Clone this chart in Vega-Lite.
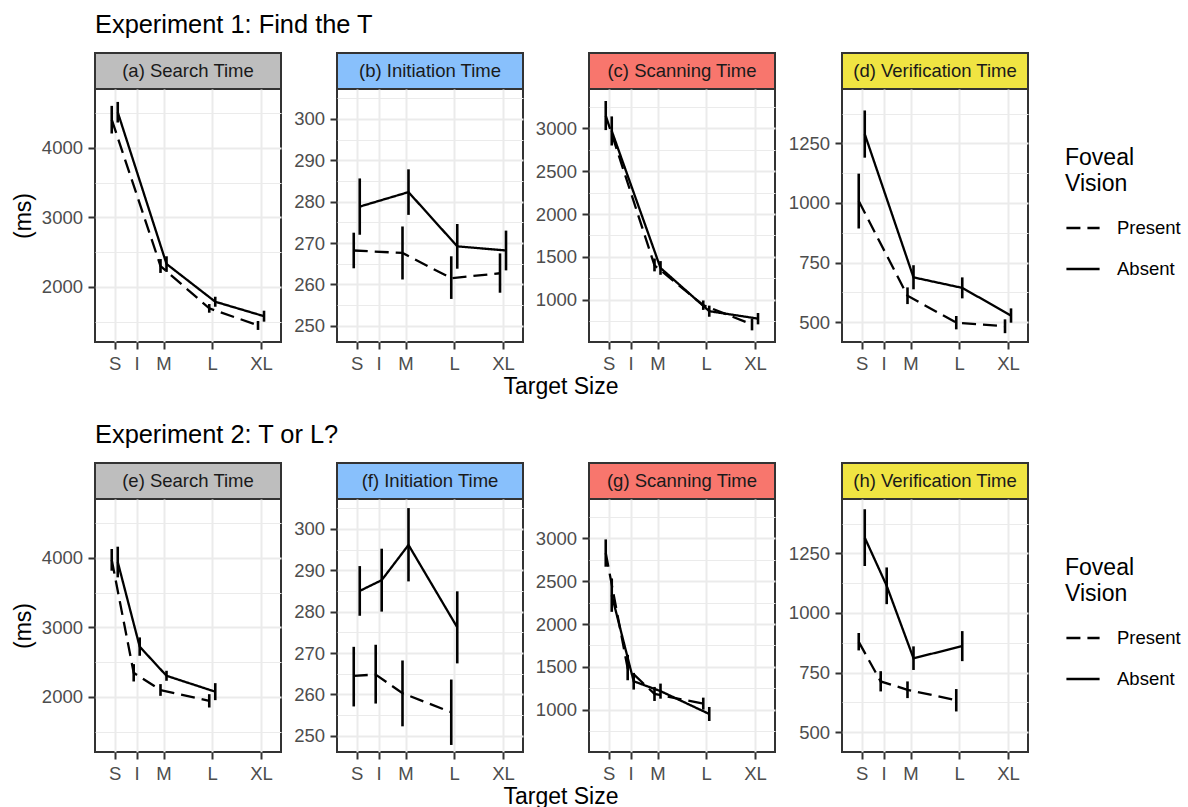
{
  "$schema": "https://vega.github.io/schema/vega-lite/v6.json",
  "padding": {"left": 11, "top": 12, "right": 5, "bottom": 0},
  "background": "white",
  "datasets": {
    "d": [
      {"p": "a", "size": "S", "x": 1, "c": "Present", "y": 4408, "lo": 4209, "hi": 4607},
      {"p": "a", "size": "S", "x": 1, "c": "Absent", "y": 4515, "lo": 4367, "hi": 4664},
      {"p": "a", "size": "M", "x": 2, "c": "Present", "y": 2300, "lo": 2200, "hi": 2400},
      {"p": "a", "size": "M", "x": 2, "c": "Absent", "y": 2330, "lo": 2215, "hi": 2440},
      {"p": "a", "size": "L", "x": 3, "c": "Present", "y": 1690, "lo": 1627, "hi": 1752},
      {"p": "a", "size": "L", "x": 3, "c": "Absent", "y": 1785, "lo": 1713, "hi": 1857},
      {"p": "a", "size": "XL", "x": 4, "c": "Present", "y": 1445, "lo": 1379, "hi": 1508},
      {"p": "a", "size": "XL", "x": 4, "c": "Absent", "y": 1577, "lo": 1498, "hi": 1656},

      {"p": "b", "size": "S", "x": 1, "c": "Present", "y": 268.2, "lo": 263.9, "hi": 272.5},
      {"p": "b", "size": "S", "x": 1, "c": "Absent", "y": 278.8, "lo": 272.0, "hi": 285.6},
      {"p": "b", "size": "M", "x": 2, "c": "Present", "y": 267.6, "lo": 261.2, "hi": 274.0},
      {"p": "b", "size": "M", "x": 2, "c": "Absent", "y": 282.3, "lo": 276.8, "hi": 287.8},
      {"p": "b", "size": "L", "x": 3, "c": "Present", "y": 261.5, "lo": 256.5, "hi": 266.8},
      {"p": "b", "size": "L", "x": 3, "c": "Absent", "y": 269.2, "lo": 263.8, "hi": 274.6},
      {"p": "b", "size": "XL", "x": 4, "c": "Present", "y": 262.7, "lo": 258.0, "hi": 267.5},
      {"p": "b", "size": "XL", "x": 4, "c": "Absent", "y": 268.2, "lo": 263.4, "hi": 273.0},

      {"p": "c", "size": "S", "x": 1, "c": "Present", "y": 3150, "lo": 2980, "hi": 3320},
      {"p": "c", "size": "S", "x": 1, "c": "Absent", "y": 2970, "lo": 2800, "hi": 3140},
      {"p": "c", "size": "M", "x": 2, "c": "Present", "y": 1400, "lo": 1330, "hi": 1480},
      {"p": "c", "size": "M", "x": 2, "c": "Absent", "y": 1370, "lo": 1290, "hi": 1450},
      {"p": "c", "size": "L", "x": 3, "c": "Present", "y": 935, "lo": 880, "hi": 990},
      {"p": "c", "size": "L", "x": 3, "c": "Absent", "y": 865, "lo": 800, "hi": 930},
      {"p": "c", "size": "XL", "x": 4, "c": "Present", "y": 710, "lo": 641, "hi": 778},
      {"p": "c", "size": "XL", "x": 4, "c": "Absent", "y": 778, "lo": 711, "hi": 844},

      {"p": "d", "size": "S", "x": 1, "c": "Present", "y": 1008, "lo": 893, "hi": 1123},
      {"p": "d", "size": "S", "x": 1, "c": "Absent", "y": 1289, "lo": 1190, "hi": 1388},
      {"p": "d", "size": "M", "x": 2, "c": "Present", "y": 611, "lo": 576, "hi": 646},
      {"p": "d", "size": "M", "x": 2, "c": "Absent", "y": 688, "lo": 638, "hi": 739},
      {"p": "d", "size": "L", "x": 3, "c": "Present", "y": 498, "lo": 470, "hi": 526},
      {"p": "d", "size": "L", "x": 3, "c": "Absent", "y": 644, "lo": 600, "hi": 688},
      {"p": "d", "size": "XL", "x": 4, "c": "Present", "y": 483, "lo": 454, "hi": 512},
      {"p": "d", "size": "XL", "x": 4, "c": "Absent", "y": 528, "lo": 498, "hi": 558},

      {"p": "e", "size": "S", "x": 1, "c": "Present", "y": 3973, "lo": 3817, "hi": 4130},
      {"p": "e", "size": "S", "x": 1, "c": "Absent", "y": 3942, "lo": 3721, "hi": 4163},
      {"p": "e", "size": "I", "x": 1.45, "c": "Present", "y": 2346, "lo": 2221, "hi": 2471},
      {"p": "e", "size": "I", "x": 1.45, "c": "Absent", "y": 2723, "lo": 2591, "hi": 2856},
      {"p": "e", "size": "M", "x": 2, "c": "Present", "y": 2098, "lo": 2014, "hi": 2183},
      {"p": "e", "size": "M", "x": 2, "c": "Absent", "y": 2303, "lo": 2231, "hi": 2375},
      {"p": "e", "size": "L", "x": 3, "c": "Present", "y": 1942, "lo": 1846, "hi": 2038},
      {"p": "e", "size": "L", "x": 3, "c": "Absent", "y": 2074, "lo": 1952, "hi": 2197},

      {"p": "f", "size": "S", "x": 1, "c": "Present", "y": 264.5, "lo": 257.1, "hi": 271.5},
      {"p": "f", "size": "S", "x": 1, "c": "Absent", "y": 285.0, "lo": 279.0, "hi": 291.0},
      {"p": "f", "size": "I", "x": 1.45, "c": "Present", "y": 264.8, "lo": 257.8, "hi": 272.0},
      {"p": "f", "size": "I", "x": 1.45, "c": "Absent", "y": 287.6, "lo": 280.0, "hi": 295.2},
      {"p": "f", "size": "M", "x": 2, "c": "Present", "y": 260.3, "lo": 252.3, "hi": 268.2},
      {"p": "f", "size": "M", "x": 2, "c": "Absent", "y": 296.1, "lo": 287.3, "hi": 305.0},
      {"p": "f", "size": "L", "x": 3, "c": "Present", "y": 255.7, "lo": 247.8, "hi": 263.6},
      {"p": "f", "size": "L", "x": 3, "c": "Absent", "y": 276.2, "lo": 267.5, "hi": 284.9},

      {"p": "g", "size": "S", "x": 1, "c": "Present", "y": 2829, "lo": 2669, "hi": 2988},
      {"p": "g", "size": "S", "x": 1, "c": "Absent", "y": 2337, "lo": 2142, "hi": 2532},
      {"p": "g", "size": "I", "x": 1.45, "c": "Present", "y": 1480, "lo": 1343, "hi": 1640},
      {"p": "g", "size": "I", "x": 1.45, "c": "Absent", "y": 1331, "lo": 1234, "hi": 1429},
      {"p": "g", "size": "M", "x": 2, "c": "Present", "y": 1183, "lo": 1101, "hi": 1265},
      {"p": "g", "size": "M", "x": 2, "c": "Absent", "y": 1216, "lo": 1128, "hi": 1304},
      {"p": "g", "size": "L", "x": 3, "c": "Present", "y": 1070, "lo": 1000, "hi": 1140},
      {"p": "g", "size": "L", "x": 3, "c": "Absent", "y": 949, "lo": 867, "hi": 1031},

      {"p": "h", "size": "S", "x": 1, "c": "Present", "y": 879, "lo": 843, "hi": 916},
      {"p": "h", "size": "S", "x": 1, "c": "Absent", "y": 1316, "lo": 1197, "hi": 1435},
      {"p": "h", "size": "I", "x": 1.45, "c": "Present", "y": 713, "lo": 671, "hi": 756},
      {"p": "h", "size": "I", "x": 1.45, "c": "Absent", "y": 1114, "lo": 1037, "hi": 1191},
      {"p": "h", "size": "M", "x": 2, "c": "Present", "y": 678, "lo": 643, "hi": 713},
      {"p": "h", "size": "M", "x": 2, "c": "Absent", "y": 810, "lo": 761, "hi": 860},
      {"p": "h", "size": "L", "x": 3, "c": "Present", "y": 634, "lo": 587, "hi": 681},
      {"p": "h", "size": "L", "x": 3, "c": "Absent", "y": 861, "lo": 798, "hi": 924}
    ]
  },
  "spacing": 23,
  "resolve": {"scale": {"strokeDash": "independent"}, "legend": {"strokeDash": "independent"}},
  "vconcat": [
    {
      "title": {"text": "Experiment 1: Find the T", "anchor": "start", "frame": "group", "offset": 14},
      "resolve": {"scale": {"strokeDash": "independent"}, "legend": {"strokeDash": "independent"}},
      "vconcat": [
        {
          "title": {"text": "Target Size", "orient": "bottom", "anchor": "start", "align": "center", "frame": "group", "dx": 466, "fontSize": 23, "offset": 1.5},
          "spacing": 10,
          "resolve": {"scale": {"strokeDash": "independent"}, "legend": {"strokeDash": "independent"}},
          "hconcat": [
            {
              "spacing": 10,
              "resolve": {"scale": {"strokeDash": "independent"}, "legend": {"strokeDash": "independent"}},
              "hconcat": [
                {
                  "bounds": "flush", "spacing": 0,
                  "resolve": {"scale": {"strokeDash": "independent"}, "legend": {"strokeDash": "independent"}},
                  "vconcat": [
                    {"width": 186, "height": 36, "data": {"values": [{"label": "(a) Search Time"}]},
                     "mark": {"type": "text", "fontSize": 18.5, "color": "#1a1a1a"},
                     "encoding": {"text": {"field": "label"}},
                     "view": {"fill": "#bebebe", "stroke": "#333333", "strokeWidth": 2}},
                    {"width": 186, "height": 253, "data": {"name": "d"},
                     "transform": [{"filter": "datum.p == 'a'"}],
                     "encoding": {"x": {"field": "x", "type": "quantitative", "scale": {"domain": [0.595, 4.41], "nice": false, "zero": false},
                       "axis": {"values": [1, 1.45, 2, 3, 4], "labelExpr": "datum.value == 1 ? 'S' : datum.value == 1.45 ? 'I' : datum.value == 2 ? 'M' : datum.value == 3 ? 'L' : 'XL'", "grid": true, "gridWidth": 2, "labelOverlap": false, "labelFlush": false, "title": null}}},
                     "layer": [
                       {"mark": {"type": "point", "opacity": 0}, "encoding": {"y": {"field": "y", "type": "quantitative", "scale": {"domain": [1205, 4850], "nice": false, "zero": false}, "axis": {"values": [1500, 2500, 3500, 4500], "grid": true, "gridWidth": 1.1, "labels": false, "ticks": false, "domain": false, "title": null, "orient": "left"}}}},
                       {"transform": [{"filter": "datum.c == 'Present'"}], "mark": {"type": "rule", "xOffset": -3, "strokeWidth": 2.6, "color": "black"}, "encoding": {"y": {"field": "lo", "type": "quantitative", "axis": {"values": [2000, 3000, 4000], "format": "d", "grid": true, "gridWidth": 2, "title": "(ms)", "orient": "left"}}, "y2": {"field": "hi"}}},
                       {"transform": [{"filter": "datum.c == 'Absent'"}], "mark": {"type": "rule", "xOffset": 3, "strokeWidth": 2.6, "color": "black"}, "encoding": {"y": {"field": "lo", "type": "quantitative", "axis": null}, "y2": {"field": "hi"}}},
                       {"transform": [{"filter": "datum.c == 'Present'"}], "mark": {"type": "line", "xOffset": -3, "strokeWidth": 2.3, "color": "black"}, "encoding": {"y": {"field": "y", "type": "quantitative", "axis": null}, "strokeDash": {"field": "c", "type": "nominal", "scale": {"domain": ["Present", "Absent"], "range": [[14, 7], [1, 0]]}, "legend": null}}},
                       {"transform": [{"filter": "datum.c == 'Absent'"}], "mark": {"type": "line", "xOffset": 3, "strokeWidth": 2.3, "color": "black"}, "encoding": {"y": {"field": "y", "type": "quantitative", "axis": null}, "strokeDash": {"field": "c", "type": "nominal", "scale": {"domain": ["Present", "Absent"], "range": [[14, 7], [1, 0]]}, "legend": null}}}
                     ],
                     "resolve": {"axis": {"y": "independent"}}}
                  ]
                },
                {
                  "bounds": "flush", "spacing": 0,
                  "resolve": {"scale": {"strokeDash": "independent"}, "legend": {"strokeDash": "independent"}},
                  "vconcat": [
                    {"width": 186, "height": 36, "data": {"values": [{"label": "(b) Initiation Time"}]},
                     "mark": {"type": "text", "fontSize": 18.5, "color": "#1a1a1a"},
                     "encoding": {"text": {"field": "label"}},
                     "view": {"fill": "#88c0fc", "stroke": "#333333", "strokeWidth": 2}},
                    {"width": 186, "height": 253, "data": {"name": "d"},
                     "transform": [{"filter": "datum.p == 'b'"}],
                     "encoding": {"x": {"field": "x", "type": "quantitative", "scale": {"domain": [0.595, 4.41], "nice": false, "zero": false},
                       "axis": {"values": [1, 1.45, 2, 3, 4], "labelExpr": "datum.value == 1 ? 'S' : datum.value == 1.45 ? 'I' : datum.value == 2 ? 'M' : datum.value == 3 ? 'L' : 'XL'", "grid": true, "gridWidth": 2, "labelOverlap": false, "labelFlush": false, "title": null}}},
                     "layer": [
                       {"mark": {"type": "point", "opacity": 0}, "encoding": {"y": {"field": "y", "type": "quantitative", "scale": {"domain": [246.1, 307.2], "nice": false, "zero": false}, "axis": {"values": [255, 265, 275, 285, 295, 305], "grid": true, "gridWidth": 1.1, "labels": false, "ticks": false, "domain": false, "title": null, "orient": "left"}}}},
                       {"transform": [{"filter": "datum.c == 'Present'"}], "mark": {"type": "rule", "xOffset": -3, "strokeWidth": 2.6, "color": "black"}, "encoding": {"y": {"field": "lo", "type": "quantitative", "axis": {"values": [250, 260, 270, 280, 290, 300], "format": "d", "grid": true, "gridWidth": 2, "title": null, "orient": "left"}}, "y2": {"field": "hi"}}},
                       {"transform": [{"filter": "datum.c == 'Absent'"}], "mark": {"type": "rule", "xOffset": 3, "strokeWidth": 2.6, "color": "black"}, "encoding": {"y": {"field": "lo", "type": "quantitative", "axis": null}, "y2": {"field": "hi"}}},
                       {"transform": [{"filter": "datum.c == 'Present'"}], "mark": {"type": "line", "xOffset": -3, "strokeWidth": 2.3, "color": "black"}, "encoding": {"y": {"field": "y", "type": "quantitative", "axis": null}, "strokeDash": {"field": "c", "type": "nominal", "scale": {"domain": ["Present", "Absent"], "range": [[14, 7], [1, 0]]}, "legend": null}}},
                       {"transform": [{"filter": "datum.c == 'Absent'"}], "mark": {"type": "line", "xOffset": 3, "strokeWidth": 2.3, "color": "black"}, "encoding": {"y": {"field": "y", "type": "quantitative", "axis": null}, "strokeDash": {"field": "c", "type": "nominal", "scale": {"domain": ["Present", "Absent"], "range": [[14, 7], [1, 0]]}, "legend": null}}}
                     ],
                     "resolve": {"axis": {"y": "independent"}}}
                  ]
                }
              ]
            },
            {
              "spacing": 11,
              "resolve": {"scale": {"strokeDash": "independent"}, "legend": {"strokeDash": "independent"}},
              "hconcat": [
                {
                  "bounds": "flush", "spacing": 0,
                  "resolve": {"scale": {"strokeDash": "independent"}, "legend": {"strokeDash": "independent"}},
                  "vconcat": [
                    {"width": 186, "height": 36, "data": {"values": [{"label": "(c) Scanning Time"}]},
                     "mark": {"type": "text", "fontSize": 18.5, "color": "#1a1a1a"},
                     "encoding": {"text": {"field": "label"}},
                     "view": {"fill": "#f8766d", "stroke": "#333333", "strokeWidth": 2}},
                    {"width": 186, "height": 253, "data": {"name": "d"},
                     "transform": [{"filter": "datum.p == 'c'"}],
                     "encoding": {"x": {"field": "x", "type": "quantitative", "scale": {"domain": [0.595, 4.41], "nice": false, "zero": false},
                       "axis": {"values": [1, 1.45, 2, 3, 4], "labelExpr": "datum.value == 1 ? 'S' : datum.value == 1.45 ? 'I' : datum.value == 2 ? 'M' : datum.value == 3 ? 'L' : 'XL'", "grid": true, "gridWidth": 2, "labelOverlap": false, "labelFlush": false, "title": null}}},
                     "layer": [
                       {"mark": {"type": "point", "opacity": 0}, "encoding": {"y": {"field": "y", "type": "quantitative", "scale": {"domain": [505, 3460], "nice": false, "zero": false}, "axis": {"values": [750, 1250, 1750, 2250, 2750, 3250], "grid": true, "gridWidth": 1.1, "labels": false, "ticks": false, "domain": false, "title": null, "orient": "left"}}}},
                       {"transform": [{"filter": "datum.c == 'Present'"}], "mark": {"type": "rule", "xOffset": -3, "strokeWidth": 2.6, "color": "black"}, "encoding": {"y": {"field": "lo", "type": "quantitative", "axis": {"values": [1000, 1500, 2000, 2500, 3000], "format": "d", "grid": true, "gridWidth": 2, "title": null, "orient": "left"}}, "y2": {"field": "hi"}}},
                       {"transform": [{"filter": "datum.c == 'Absent'"}], "mark": {"type": "rule", "xOffset": 3, "strokeWidth": 2.6, "color": "black"}, "encoding": {"y": {"field": "lo", "type": "quantitative", "axis": null}, "y2": {"field": "hi"}}},
                       {"transform": [{"filter": "datum.c == 'Present'"}], "mark": {"type": "line", "xOffset": -3, "strokeWidth": 2.3, "color": "black"}, "encoding": {"y": {"field": "y", "type": "quantitative", "axis": null}, "strokeDash": {"field": "c", "type": "nominal", "scale": {"domain": ["Present", "Absent"], "range": [[14, 7], [1, 0]]}, "legend": null}}},
                       {"transform": [{"filter": "datum.c == 'Absent'"}], "mark": {"type": "line", "xOffset": 3, "strokeWidth": 2.3, "color": "black"}, "encoding": {"y": {"field": "y", "type": "quantitative", "axis": null}, "strokeDash": {"field": "c", "type": "nominal", "scale": {"domain": ["Present", "Absent"], "range": [[14, 7], [1, 0]]}, "legend": null}}}
                     ],
                     "resolve": {"axis": {"y": "independent"}}}
                  ]
                },
                {
                  "bounds": "flush", "spacing": 0,
                  "resolve": {"scale": {"strokeDash": "independent"}, "legend": {"strokeDash": "independent"}},
                  "vconcat": [
                    {"width": 186, "height": 36, "data": {"values": [{"label": "(d) Verification Time"}]},
                     "mark": {"type": "text", "fontSize": 18.5, "color": "#1a1a1a"},
                     "encoding": {"text": {"field": "label"}},
                     "view": {"fill": "#f0e442", "stroke": "#333333", "strokeWidth": 2}},
                    {"width": 186, "height": 253, "data": {"name": "d"},
                     "transform": [{"filter": "datum.p == 'd'"}],
                     "encoding": {"x": {"field": "x", "type": "quantitative", "scale": {"domain": [0.595, 4.41], "nice": false, "zero": false},
                       "axis": {"values": [1, 1.45, 2, 3, 4], "labelExpr": "datum.value == 1 ? 'S' : datum.value == 1.45 ? 'I' : datum.value == 2 ? 'M' : datum.value == 3 ? 'L' : 'XL'", "grid": true, "gridWidth": 2, "labelOverlap": false, "labelFlush": false, "title": null}}},
                     "layer": [
                       {"mark": {"type": "point", "opacity": 0}, "encoding": {"y": {"field": "y", "type": "quantitative", "scale": {"domain": [417, 1478], "nice": false, "zero": false}, "axis": {"values": [625, 875, 1125, 1375], "grid": true, "gridWidth": 1.1, "labels": false, "ticks": false, "domain": false, "title": null, "orient": "left"}}}},
                       {"transform": [{"filter": "datum.c == 'Present'"}], "mark": {"type": "rule", "xOffset": -3, "strokeWidth": 2.6, "color": "black"}, "encoding": {"y": {"field": "lo", "type": "quantitative", "axis": {"values": [500, 750, 1000, 1250], "format": "d", "grid": true, "gridWidth": 2, "title": null, "orient": "left"}}, "y2": {"field": "hi"}}},
                       {"transform": [{"filter": "datum.c == 'Absent'"}], "mark": {"type": "rule", "xOffset": 3, "strokeWidth": 2.6, "color": "black"}, "encoding": {"y": {"field": "lo", "type": "quantitative", "axis": null}, "y2": {"field": "hi"}}},
                       {"transform": [{"filter": "datum.c == 'Present'"}], "mark": {"type": "line", "xOffset": -3, "strokeWidth": 2.3, "color": "black"}, "encoding": {"y": {"field": "y", "type": "quantitative", "axis": null}, "strokeDash": {"field": "c", "type": "nominal", "scale": {"domain": ["Present", "Absent"], "range": [[14, 7], [1, 0]]}, "legend": {"title": ["Foveal", "Vision"], "orient": "none", "legendX": 223, "legendY": 58}}}},
                       {"transform": [{"filter": "datum.c == 'Absent'"}], "mark": {"type": "line", "xOffset": 3, "strokeWidth": 2.3, "color": "black"}, "encoding": {"y": {"field": "y", "type": "quantitative", "axis": null}, "strokeDash": {"field": "c", "type": "nominal", "scale": {"domain": ["Present", "Absent"], "range": [[14, 7], [1, 0]]}, "legend": {"title": ["Foveal", "Vision"], "orient": "none", "legendX": 223, "legendY": 58}}}}
                     ],
                     "resolve": {"axis": {"y": "independent"}}}
                  ]
                }
              ]
            }
          ]
        }
      ]
    },
    {
      "title": {"text": "Experiment 2: T or L?", "anchor": "start", "frame": "group", "offset": 14},
      "resolve": {"scale": {"strokeDash": "independent"}, "legend": {"strokeDash": "independent"}},
      "vconcat": [
        {
          "title": {"text": "Target Size", "orient": "bottom", "anchor": "start", "align": "center", "frame": "group", "dx": 466, "fontSize": 23, "offset": 1.5},
          "spacing": 10,
          "resolve": {"scale": {"strokeDash": "independent"}, "legend": {"strokeDash": "independent"}},
          "hconcat": [
            {
              "spacing": 10,
              "resolve": {"scale": {"strokeDash": "independent"}, "legend": {"strokeDash": "independent"}},
              "hconcat": [
                {
                  "bounds": "flush", "spacing": 0,
                  "resolve": {"scale": {"strokeDash": "independent"}, "legend": {"strokeDash": "independent"}},
                  "vconcat": [
                    {"width": 186, "height": 36, "data": {"values": [{"label": "(e) Search Time"}]},
                     "mark": {"type": "text", "fontSize": 18.5, "color": "#1a1a1a"},
                     "encoding": {"text": {"field": "label"}},
                     "view": {"fill": "#bebebe", "stroke": "#333333", "strokeWidth": 2}},
                    {"width": 186, "height": 253, "data": {"name": "d"},
                     "transform": [{"filter": "datum.p == 'e'"}],
                     "encoding": {"x": {"field": "x", "type": "quantitative", "scale": {"domain": [0.595, 4.41], "nice": false, "zero": false},
                       "axis": {"values": [1, 1.45, 2, 3, 4], "labelExpr": "datum.value == 1 ? 'S' : datum.value == 1.45 ? 'I' : datum.value == 2 ? 'M' : datum.value == 3 ? 'L' : 'XL'", "grid": true, "gridWidth": 2, "labelOverlap": false, "labelFlush": false, "title": null}}},
                     "layer": [
                       {"mark": {"type": "point", "opacity": 0}, "encoding": {"y": {"field": "y", "type": "quantitative", "scale": {"domain": [1205, 4850], "nice": false, "zero": false}, "axis": {"values": [1500, 2500, 3500, 4500], "grid": true, "gridWidth": 1.1, "labels": false, "ticks": false, "domain": false, "title": null, "orient": "left"}}}},
                       {"transform": [{"filter": "datum.c == 'Present'"}], "mark": {"type": "rule", "xOffset": -3, "strokeWidth": 2.6, "color": "black"}, "encoding": {"y": {"field": "lo", "type": "quantitative", "axis": {"values": [2000, 3000, 4000], "format": "d", "grid": true, "gridWidth": 2, "title": "(ms)", "orient": "left"}}, "y2": {"field": "hi"}}},
                       {"transform": [{"filter": "datum.c == 'Absent'"}], "mark": {"type": "rule", "xOffset": 3, "strokeWidth": 2.6, "color": "black"}, "encoding": {"y": {"field": "lo", "type": "quantitative", "axis": null}, "y2": {"field": "hi"}}},
                       {"transform": [{"filter": "datum.c == 'Present'"}], "mark": {"type": "line", "xOffset": -3, "strokeWidth": 2.3, "color": "black"}, "encoding": {"y": {"field": "y", "type": "quantitative", "axis": null}, "strokeDash": {"field": "c", "type": "nominal", "scale": {"domain": ["Present", "Absent"], "range": [[14, 7], [1, 0]]}, "legend": null}}},
                       {"transform": [{"filter": "datum.c == 'Absent'"}], "mark": {"type": "line", "xOffset": 3, "strokeWidth": 2.3, "color": "black"}, "encoding": {"y": {"field": "y", "type": "quantitative", "axis": null}, "strokeDash": {"field": "c", "type": "nominal", "scale": {"domain": ["Present", "Absent"], "range": [[14, 7], [1, 0]]}, "legend": null}}}
                     ],
                     "resolve": {"axis": {"y": "independent"}}}
                  ]
                },
                {
                  "bounds": "flush", "spacing": 0,
                  "resolve": {"scale": {"strokeDash": "independent"}, "legend": {"strokeDash": "independent"}},
                  "vconcat": [
                    {"width": 186, "height": 36, "data": {"values": [{"label": "(f) Initiation Time"}]},
                     "mark": {"type": "text", "fontSize": 18.5, "color": "#1a1a1a"},
                     "encoding": {"text": {"field": "label"}},
                     "view": {"fill": "#88c0fc", "stroke": "#333333", "strokeWidth": 2}},
                    {"width": 186, "height": 253, "data": {"name": "d"},
                     "transform": [{"filter": "datum.p == 'f'"}],
                     "encoding": {"x": {"field": "x", "type": "quantitative", "scale": {"domain": [0.595, 4.41], "nice": false, "zero": false},
                       "axis": {"values": [1, 1.45, 2, 3, 4], "labelExpr": "datum.value == 1 ? 'S' : datum.value == 1.45 ? 'I' : datum.value == 2 ? 'M' : datum.value == 3 ? 'L' : 'XL'", "grid": true, "gridWidth": 2, "labelOverlap": false, "labelFlush": false, "title": null}}},
                     "layer": [
                       {"mark": {"type": "point", "opacity": 0}, "encoding": {"y": {"field": "y", "type": "quantitative", "scale": {"domain": [246.1, 307.2], "nice": false, "zero": false}, "axis": {"values": [255, 265, 275, 285, 295, 305], "grid": true, "gridWidth": 1.1, "labels": false, "ticks": false, "domain": false, "title": null, "orient": "left"}}}},
                       {"transform": [{"filter": "datum.c == 'Present'"}], "mark": {"type": "rule", "xOffset": -3, "strokeWidth": 2.6, "color": "black"}, "encoding": {"y": {"field": "lo", "type": "quantitative", "axis": {"values": [250, 260, 270, 280, 290, 300], "format": "d", "grid": true, "gridWidth": 2, "title": null, "orient": "left"}}, "y2": {"field": "hi"}}},
                       {"transform": [{"filter": "datum.c == 'Absent'"}], "mark": {"type": "rule", "xOffset": 3, "strokeWidth": 2.6, "color": "black"}, "encoding": {"y": {"field": "lo", "type": "quantitative", "axis": null}, "y2": {"field": "hi"}}},
                       {"transform": [{"filter": "datum.c == 'Present'"}], "mark": {"type": "line", "xOffset": -3, "strokeWidth": 2.3, "color": "black"}, "encoding": {"y": {"field": "y", "type": "quantitative", "axis": null}, "strokeDash": {"field": "c", "type": "nominal", "scale": {"domain": ["Present", "Absent"], "range": [[14, 7], [1, 0]]}, "legend": null}}},
                       {"transform": [{"filter": "datum.c == 'Absent'"}], "mark": {"type": "line", "xOffset": 3, "strokeWidth": 2.3, "color": "black"}, "encoding": {"y": {"field": "y", "type": "quantitative", "axis": null}, "strokeDash": {"field": "c", "type": "nominal", "scale": {"domain": ["Present", "Absent"], "range": [[14, 7], [1, 0]]}, "legend": null}}}
                     ],
                     "resolve": {"axis": {"y": "independent"}}}
                  ]
                }
              ]
            },
            {
              "spacing": 11,
              "resolve": {"scale": {"strokeDash": "independent"}, "legend": {"strokeDash": "independent"}},
              "hconcat": [
                {
                  "bounds": "flush", "spacing": 0,
                  "resolve": {"scale": {"strokeDash": "independent"}, "legend": {"strokeDash": "independent"}},
                  "vconcat": [
                    {"width": 186, "height": 36, "data": {"values": [{"label": "(g) Scanning Time"}]},
                     "mark": {"type": "text", "fontSize": 18.5, "color": "#1a1a1a"},
                     "encoding": {"text": {"field": "label"}},
                     "view": {"fill": "#f8766d", "stroke": "#333333", "strokeWidth": 2}},
                    {"width": 186, "height": 253, "data": {"name": "d"},
                     "transform": [{"filter": "datum.p == 'g'"}],
                     "encoding": {"x": {"field": "x", "type": "quantitative", "scale": {"domain": [0.595, 4.41], "nice": false, "zero": false},
                       "axis": {"values": [1, 1.45, 2, 3, 4], "labelExpr": "datum.value == 1 ? 'S' : datum.value == 1.45 ? 'I' : datum.value == 2 ? 'M' : datum.value == 3 ? 'L' : 'XL'", "grid": true, "gridWidth": 2, "labelOverlap": false, "labelFlush": false, "title": null}}},
                     "layer": [
                       {"mark": {"type": "point", "opacity": 0}, "encoding": {"y": {"field": "y", "type": "quantitative", "scale": {"domain": [505, 3460], "nice": false, "zero": false}, "axis": {"values": [750, 1250, 1750, 2250, 2750, 3250], "grid": true, "gridWidth": 1.1, "labels": false, "ticks": false, "domain": false, "title": null, "orient": "left"}}}},
                       {"transform": [{"filter": "datum.c == 'Present'"}], "mark": {"type": "rule", "xOffset": -3, "strokeWidth": 2.6, "color": "black"}, "encoding": {"y": {"field": "lo", "type": "quantitative", "axis": {"values": [1000, 1500, 2000, 2500, 3000], "format": "d", "grid": true, "gridWidth": 2, "title": null, "orient": "left"}}, "y2": {"field": "hi"}}},
                       {"transform": [{"filter": "datum.c == 'Absent'"}], "mark": {"type": "rule", "xOffset": 3, "strokeWidth": 2.6, "color": "black"}, "encoding": {"y": {"field": "lo", "type": "quantitative", "axis": null}, "y2": {"field": "hi"}}},
                       {"transform": [{"filter": "datum.c == 'Present'"}], "mark": {"type": "line", "xOffset": -3, "strokeWidth": 2.3, "color": "black"}, "encoding": {"y": {"field": "y", "type": "quantitative", "axis": null}, "strokeDash": {"field": "c", "type": "nominal", "scale": {"domain": ["Present", "Absent"], "range": [[14, 7], [1, 0]]}, "legend": null}}},
                       {"transform": [{"filter": "datum.c == 'Absent'"}], "mark": {"type": "line", "xOffset": 3, "strokeWidth": 2.3, "color": "black"}, "encoding": {"y": {"field": "y", "type": "quantitative", "axis": null}, "strokeDash": {"field": "c", "type": "nominal", "scale": {"domain": ["Present", "Absent"], "range": [[14, 7], [1, 0]]}, "legend": null}}}
                     ],
                     "resolve": {"axis": {"y": "independent"}}}
                  ]
                },
                {
                  "bounds": "flush", "spacing": 0,
                  "resolve": {"scale": {"strokeDash": "independent"}, "legend": {"strokeDash": "independent"}},
                  "vconcat": [
                    {"width": 186, "height": 36, "data": {"values": [{"label": "(h) Verification Time"}]},
                     "mark": {"type": "text", "fontSize": 18.5, "color": "#1a1a1a"},
                     "encoding": {"text": {"field": "label"}},
                     "view": {"fill": "#f0e442", "stroke": "#333333", "strokeWidth": 2}},
                    {"width": 186, "height": 253, "data": {"name": "d"},
                     "transform": [{"filter": "datum.p == 'h'"}],
                     "encoding": {"x": {"field": "x", "type": "quantitative", "scale": {"domain": [0.595, 4.41], "nice": false, "zero": false},
                       "axis": {"values": [1, 1.45, 2, 3, 4], "labelExpr": "datum.value == 1 ? 'S' : datum.value == 1.45 ? 'I' : datum.value == 2 ? 'M' : datum.value == 3 ? 'L' : 'XL'", "grid": true, "gridWidth": 2, "labelOverlap": false, "labelFlush": false, "title": null}}},
                     "layer": [
                       {"mark": {"type": "point", "opacity": 0}, "encoding": {"y": {"field": "y", "type": "quantitative", "scale": {"domain": [417, 1478], "nice": false, "zero": false}, "axis": {"values": [625, 875, 1125, 1375], "grid": true, "gridWidth": 1.1, "labels": false, "ticks": false, "domain": false, "title": null, "orient": "left"}}}},
                       {"transform": [{"filter": "datum.c == 'Present'"}], "mark": {"type": "rule", "xOffset": -3, "strokeWidth": 2.6, "color": "black"}, "encoding": {"y": {"field": "lo", "type": "quantitative", "axis": {"values": [500, 750, 1000, 1250], "format": "d", "grid": true, "gridWidth": 2, "title": null, "orient": "left"}}, "y2": {"field": "hi"}}},
                       {"transform": [{"filter": "datum.c == 'Absent'"}], "mark": {"type": "rule", "xOffset": 3, "strokeWidth": 2.6, "color": "black"}, "encoding": {"y": {"field": "lo", "type": "quantitative", "axis": null}, "y2": {"field": "hi"}}},
                       {"transform": [{"filter": "datum.c == 'Present'"}], "mark": {"type": "line", "xOffset": -3, "strokeWidth": 2.3, "color": "black"}, "encoding": {"y": {"field": "y", "type": "quantitative", "axis": null}, "strokeDash": {"field": "c", "type": "nominal", "scale": {"domain": ["Present", "Absent"], "range": [[14, 7], [1, 0]]}, "legend": {"title": ["Foveal", "Vision"], "orient": "none", "legendX": 223, "legendY": 58}}}},
                       {"transform": [{"filter": "datum.c == 'Absent'"}], "mark": {"type": "line", "xOffset": 3, "strokeWidth": 2.3, "color": "black"}, "encoding": {"y": {"field": "y", "type": "quantitative", "axis": null}, "strokeDash": {"field": "c", "type": "nominal", "scale": {"domain": ["Present", "Absent"], "range": [[14, 7], [1, 0]]}, "legend": {"title": ["Foveal", "Vision"], "orient": "none", "legendX": 223, "legendY": 58}}}}
                     ],
                     "resolve": {"axis": {"y": "independent"}}}
                  ]
                }
              ]
            }
          ]
        }
      ]
    }
  ],
  "config": {
    "font": "Liberation Sans",
    "view": {"stroke": "#333333", "strokeWidth": 2},
    "axis": {"domain": false, "gridColor": "#ebebeb", "tickColor": "#333333", "tickSize": 7, "tickWidth": 2, "labelColor": "#4d4d4d", "labelFontSize": 18.5, "labelPadding": 5.5, "titleFontSize": 23, "titleFontWeight": "normal", "titleColor": "#000000", "titlePadding": 6},
    "legend": {"titleFontSize": 23, "titleFontWeight": "normal", "titleColor": "#000000", "titleLineHeight": 26, "titlePadding": 14, "labelFontSize": 18.5, "labelColor": "#000000", "labelOffset": 16, "symbolType": "stroke", "symbolStrokeWidth": 2.3, "symbolSize": 1100, "symbolStrokeColor": "#000000", "rowPadding": 13},
    "title": {"fontSize": 25.4, "fontWeight": "normal", "color": "#000000", "font": "Liberation Sans"}
  }
}
